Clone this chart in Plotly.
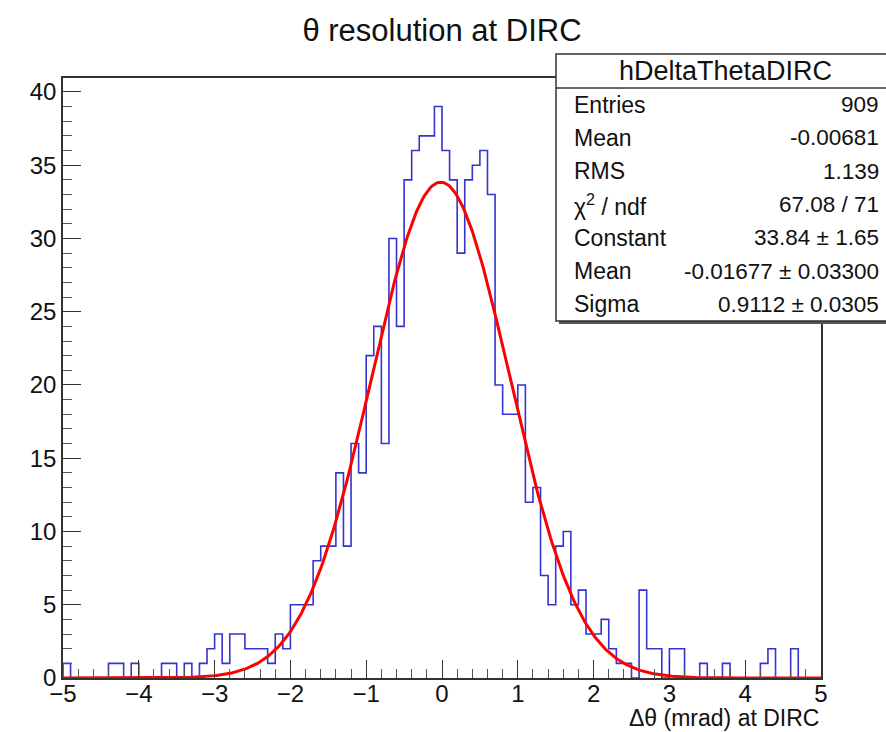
import numpy as np
import plotly.graph_objects as go

# ---------------- data ----------------
bin_low = -5.0
bin_width = 0.1
counts = [1, 0, 0, 0, 0, 0, 1, 1, 0, 1,
          0, 0, 0, 1, 1, 0, 1, 0, 1, 2,
          3, 1, 3, 3, 2, 2, 2, 1, 3, 2,
          5, 5, 5, 8, 9, 9, 14, 9, 16, 14,
          22, 24, 16, 30, 24, 34, 36, 37, 37, 39,
          36, 34, 29, 34, 35, 36, 33, 20, 18, 18,
          20, 12, 13, 7, 5, 9, 10, 5, 6, 3,
          3, 4, 2, 1, 1, 0, 6, 2, 2, 0,
          2, 2, 0, 0, 1, 0, 0, 1, 0, 0,
          0, 0, 1, 2, 0, 0, 2, 0, 0, 0]

fit_constant = 33.84
fit_mean = -0.01677
fit_sigma = 0.9112

x_ticks = [-5, -4, -3, -2, -1, 0, 1, 2, 3, 4, 5]
y_ticks = [0, 5, 10, 15, 20, 25, 30, 35, 40]

stats_title = "hDeltaThetaDIRC"
stat_labels = ["Entries", "Mean", "RMS", "χ<sup>2</sup> / ndf", "Constant", "Mean", "Sigma"]
stat_values = ["909", "-0.00681", "1.139", "67.08 / 71", "33.84 ± 1.65",
               "-0.01677 ± 0.03300", "0.9112 ± 0.0305"]

title_text = "θ resolution at DIRC"
xaxis_title = "Δθ (mrad) at DIRC"

# ---------------- figure ----------------
W, H = 886, 732
L, R, T, B = 63, 65, 78, 54
pw, ph = W - L - R, H - T - B


def px(xp):
    return (xp - L) / pw


def py(yp):
    return (H - B - yp) / ph


edges = bin_low + bin_width * np.arange(len(counts) + 1)
hx = [edges[0]] + list(edges[:-1]) + [edges[-1], edges[-1]]
hy = [0] + counts + [counts[-1], 0]

fx = np.linspace(edges[0], edges[-1], 500)
fy = fit_constant * np.exp(-0.5 * ((fx - fit_mean) / fit_sigma) ** 2)

font = "Liberation Sans, Arial, Helvetica, sans-serif"

fig = go.Figure()
fig.add_trace(go.Scatter(x=hx, y=hy, mode="lines", line=dict(shape="hv", color="#3434d0", width=1.6),
                         hoverinfo="skip", showlegend=False))
fig.add_trace(go.Scatter(x=fx, y=fy, mode="lines", line=dict(color="#ff0000", width=3),
                         hoverinfo="skip", showlegend=False))

ymax = 1.05 * max(counts)

fig.update_layout(
    width=W, height=H,
    margin=dict(l=L, r=R, t=T, b=B, autoexpand=False),
    paper_bgcolor="white", plot_bgcolor="white",
    font=dict(family=font, color="#111111"),
    title=dict(text=title_text, x=0.5, xref="paper", xanchor="center",
               y=1 - 30 / H, yref="container", yanchor="middle",
               font=dict(size=31, family=font, color="#111111")),
    xaxis=dict(range=[edges[0], edges[-1]], tickvals=x_ticks, ticks="inside", ticklen=18,
               tickwidth=1.3, tickcolor="#333", showgrid=False, zeroline=False,
               showline=True, linecolor="#333", linewidth=1.5, mirror=True,
               ticklabelstandoff=-7,
               tickfont=dict(size=24, family=font, color="#111"),
               minor=dict(dtick=0.2, ticks="inside", ticklen=9, tickcolor="#555", tickwidth=1.2)),
    yaxis=dict(range=[0, ymax], tickvals=y_ticks, ticks="inside", ticklen=18,
               tickwidth=1.3, tickcolor="#333", showgrid=False, zeroline=False,
               showline=True, linecolor="#333", linewidth=1.5, mirror=True,
               tickfont=dict(size=24, family=font, color="#111"),
               minor=dict(dtick=1, ticks="inside", ticklen=9, tickcolor="#555", tickwidth=1.2)),
)

# x-axis title (right aligned like ROOT)
fig.add_annotation(text=xaxis_title, xref="paper", yref="paper", x=1.0, y=py(718),
                   xanchor="right", yanchor="middle", showarrow=False,
                   font=dict(size=23, family=font, color="#111"))

# stats box
box_l, box_t, box_r, box_b = 556, 54, 892, 321
sep_y = 88
fig.add_shape(type="rect", xref="paper", yref="paper", x0=px(box_l + 3), x1=px(box_r + 3),
              y0=py(box_b + 3), y1=py(box_t + 3), fillcolor="#555", line=dict(width=0), layer="above")
fig.add_shape(type="rect", xref="paper", yref="paper", x0=px(box_l), x1=px(box_r),
              y0=py(box_b), y1=py(box_t), fillcolor="white", line=dict(color="#333", width=1.5),
              layer="above")
fig.add_shape(type="line", xref="paper", yref="paper", x0=px(box_l), x1=px(box_r),
              y0=py(sep_y), y1=py(sep_y), line=dict(color="#333", width=1.5), layer="above")
fig.add_annotation(text=stats_title, xref="paper", yref="paper", x=px(725), y=py(71),
                   xanchor="center", yanchor="middle", showarrow=False,
                   font=dict(size=27, family=font, color="#111"))
row_h = (box_b - sep_y) / len(stat_labels)
for i, (lab, val) in enumerate(zip(stat_labels, stat_values)):
    yc = sep_y + row_h * (i + 0.5)
    fig.add_annotation(text=lab, xref="paper", yref="paper", x=px(572), y=py(yc),
                       xanchor="left", yanchor="middle", showarrow=False,
                       font=dict(size=23, family=font, color="#111"))
    fig.add_annotation(text=val, xref="paper", yref="paper", x=px(881), y=py(yc),
                       xanchor="right", yanchor="middle", showarrow=False,
                       font=dict(size=22.5, family=font, color="#111"))

fig.write_html("out.html")
